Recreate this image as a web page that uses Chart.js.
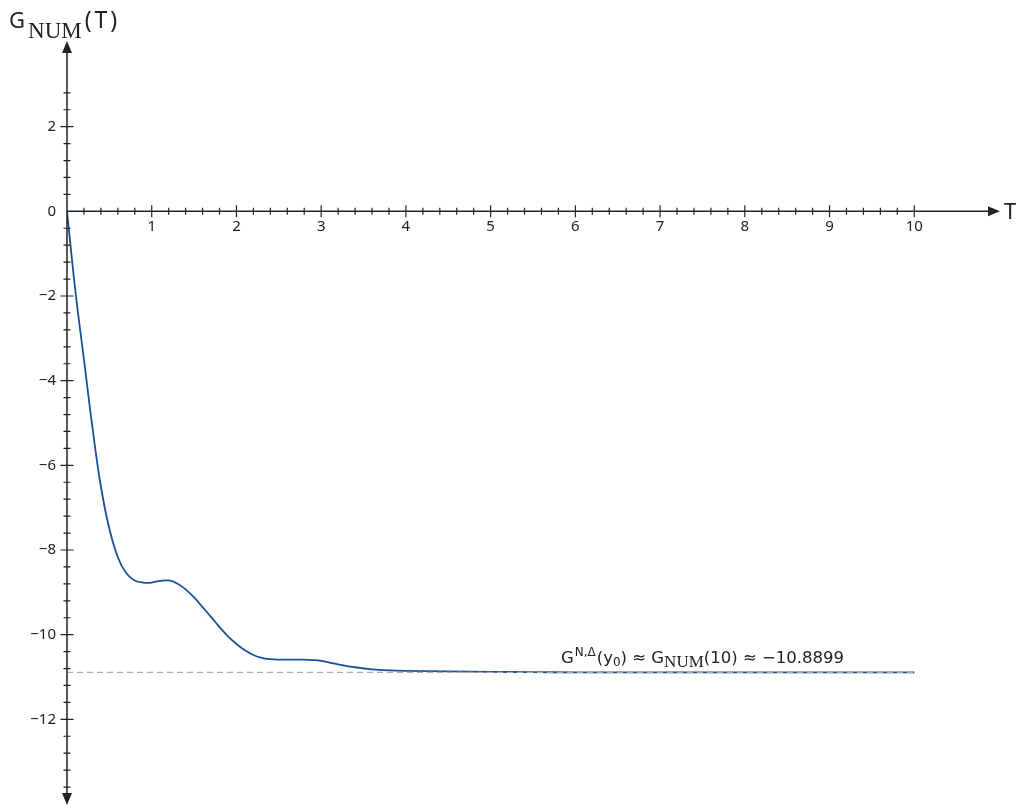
<!DOCTYPE html>
<html>
<head>
<meta charset="utf-8">
<script src="https://cdn.jsdelivr.net/npm/chart.js@4"></script>
<style>
  body { margin: 0; background: #fff; }
  #wrap { width: 1017px; height: 805px; position: relative; }
</style>
</head>
<body>
<div id="wrap"><canvas id="chart"></canvas></div>
<script>
// values
const tValues = [0, 0.1, 0.2, 0.3, 0.4, 0.5, 0.6, 0.7, 0.8, 0.9, 1.0, 1.1, 1.2, 1.3, 1.4, 1.5, 1.6, 1.7, 1.8, 1.9,
  2.0, 2.1, 2.2, 2.3, 2.4, 2.5, 2.6, 2.7, 2.8, 2.9, 3.0, 3.2, 3.4, 3.6, 3.8, 4.0, 4.5, 5.0, 5.5, 6, 7, 8, 9, 10];
const gValues = [0, -1.9, -3.5, -5.1, -6.5, -7.5, -8.17, -8.55, -8.72, -8.77, -8.77, -8.73, -8.72, -8.79, -8.93,
  -9.12, -9.35, -9.58, -9.82, -10.04, -10.22, -10.37, -10.48, -10.55, -10.58, -10.59, -10.59, -10.59, -10.59,
  -10.6, -10.62, -10.7, -10.77, -10.82, -10.845, -10.855, -10.865, -10.877, -10.886, -10.889, -10.8899,
  -10.8899, -10.8899, -10.8899];
const limitValue = -10.8899;
const xTicks = [1, 2, 3, 4, 5, 6, 7, 8, 9, 10];
const yTicks = [2, 0, -2, -4, -6, -8, -10, -12];

const points = tValues.map((t, i) => ({ x: t, y: gValues[i] }));

// draws text pieces one after another: [text, font, baseline shift, gap after]
function drawRun(ctx, x, y, pieces) {
  pieces.forEach(([txt, f, dy, gap]) => {
    ctx.font = f;
    ctx.fillText(txt, x, y + dy);
    x += ctx.measureText(txt).width + (gap || 0);
  });
  return x;
}

const axesPlugin = {
  id: 'axes',
  afterDatasetsDraw(chart) {
    const ctx = chart.ctx;
    const xs = chart.scales.x, ys = chart.scales.y;
    const x0 = xs.getPixelForValue(0), y0 = ys.getPixelForValue(0);
    const xEnd = xs.getPixelForValue(xs.max), yTop = ys.getPixelForValue(ys.max), yBot = ys.getPixelForValue(ys.min);
    ctx.save();
    ctx.strokeStyle = '#222';
    ctx.fillStyle = '#222';
    ctx.lineWidth = 1.5;
    // axis lines
    ctx.beginPath();
    ctx.moveTo(x0, y0); ctx.lineTo(xEnd - 8, y0);
    ctx.moveTo(x0, yTop + 8); ctx.lineTo(x0, yBot - 8);
    ctx.stroke();
    // arrows
    ctx.beginPath();
    ctx.moveTo(xEnd + 1, y0); ctx.lineTo(xEnd - 11, y0 - 5); ctx.lineTo(xEnd - 11, y0 + 5); ctx.closePath();
    ctx.moveTo(x0, yTop - 1); ctx.lineTo(x0 - 5, yTop + 11); ctx.lineTo(x0 + 5, yTop + 11); ctx.closePath();
    ctx.moveTo(x0, yBot + 1); ctx.lineTo(x0 - 5, yBot - 11); ctx.lineTo(x0 + 5, yBot - 11); ctx.closePath();
    ctx.fill();
    // x ticks: minor every 0.2
    ctx.lineWidth = 1.2;
    ctx.beginPath();
    for (let k = 1; k <= 50; k++) {
      const px = xs.getPixelForValue(k / 5);
      const len = (k % 5 === 0) ? 6 : 3.5;
      ctx.moveTo(px, y0 - len); ctx.lineTo(px, y0 + len);
    }
    // y ticks: minor every 0.4
    for (let k = -34; k <= 7; k++) {
      if (k === 0) continue;
      const py = ys.getPixelForValue(k * 0.4);
      const len = (k % 5 === 0) ? 6.5 : 3.5;
      ctx.moveTo(x0 - len, py); ctx.lineTo(x0 + len, py);
    }
    ctx.stroke();
    // tick labels
    ctx.font = '15px "Noto Sans"';
    ctx.textAlign = 'center';
    ctx.textBaseline = 'top';
    xTicks.forEach(v => ctx.fillText(String(v), xs.getPixelForValue(v), y0 + 8));
    ctx.textAlign = 'right';
    ctx.textBaseline = 'middle';
    yTicks.forEach(v => ctx.fillText(v < 0 ? '\u2212' + Math.abs(v) : String(v), x0 - 11, ys.getPixelForValue(v)));
    // axis titles
    ctx.textAlign = 'left';
    ctx.textBaseline = 'alphabetic';
    ctx.font = '22px "Noto Sans"';
    ctx.fillText('T', xEnd + 5, y0 + 8);
    drawRun(ctx, 9, 28, [
      ['G', '22px "Noto Sans"', 0, 3],
      ['NUM', '23px "Liberation Serif"', 10, 3],
      ['(', '23px "Noto Sans"', 0, 3],
      ['T', '23px "Noto Sans"', 0, 3],
      [')', '23px "Noto Sans"', 0, 0]
    ]);
    // annotation
    const base = ys.getPixelForValue(limitValue) - 9;
    drawRun(ctx, xs.getPixelForValue(5.83), base, [
      ['G', '16.5px "DejaVu Sans"', 0, 1],
      ['N,\u0394', '12px "DejaVu Sans"', -7, 1],
      ['(y', '16.5px "DejaVu Sans"', 0, 0],
      ['0', '12px "DejaVu Sans"', 3, 0],
      [') \u2248 G', '16.5px "DejaVu Sans"', 0, 0],
      ['NUM', '17px "Liberation Serif"', 4, 0],
      ['(10) \u2248 \u221210.8899', '16.5px "DejaVu Sans"', 0, 0]
    ]);
    ctx.restore();
  }
};

new Chart(document.getElementById('chart'), {
  type: 'line',
  data: {
    datasets: [
      {
        data: [{ x: 0, y: limitValue }, { x: 10, y: limitValue }],
        borderColor: '#aaaaaa',
        borderWidth: 1.2,
        borderDash: [6, 4],
        pointRadius: 0
      },
      {
        data: points,
        borderColor: '#1b4f9a',
        borderWidth: 1.8,
        pointRadius: 0,
        tension: 0.4
      }
    ]
  },
  plugins: [axesPlugin],
  options: {
    responsive: true,
    maintainAspectRatio: false,
    animation: false,
    layout: { padding: { left: 67, right: 18, top: 42, bottom: 1 } },
    plugins: { legend: { display: false }, tooltip: { enabled: false } },
    scales: {
      x: { type: 'linear', min: 0, max: 11, display: false },
      y: { type: 'linear', min: -14, max: 4, display: false }
    }
  }
});
</script>
</body>
</html>
